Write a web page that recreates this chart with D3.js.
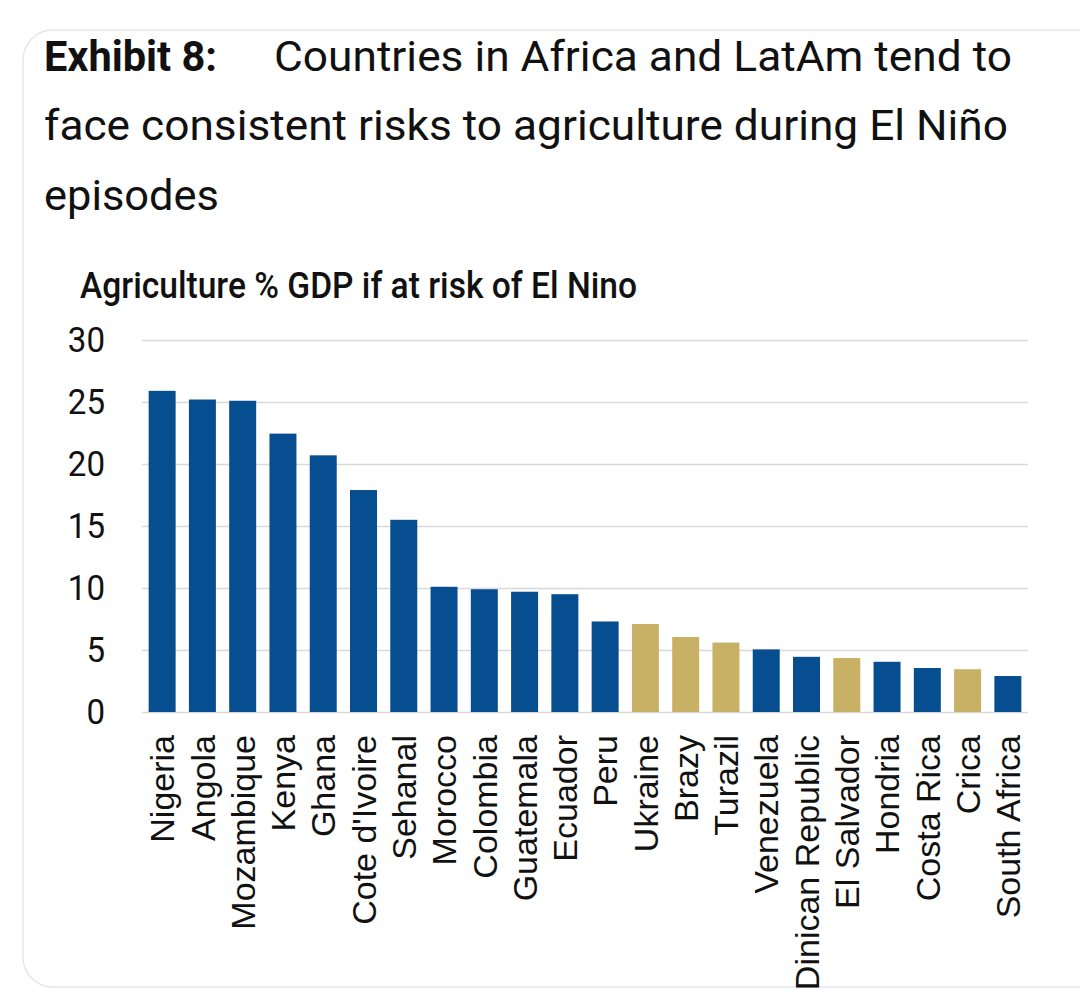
<!DOCTYPE html>
<html>
<head>
<meta charset="utf-8">
<script src="https://cdn.jsdelivr.net/npm/d3@7"></script>
<style>
  html, body { margin: 0; padding: 0; background: #ffffff; }
  svg { display: block; }
</style>
</head>
<body>
<svg id="chart"></svg>
<script>
const countries = ["Nigeria", "Angola", "Mozambique", "Kenya", "Ghana", "Cote d'Ivoire",
  "Sehanal", "Morocco", "Colombia", "Guatemala", "Ecuador", "Peru", "Ukraine", "Brazy",
  "Turazil", "Venezuela", "Dinican Republic", "El Salvador", "Hondria", "Costa Rica",
  "Crica", "South Africa"];
const values = [25.9, 25.2, 25.1, 22.45, 20.7, 17.9, 15.5, 10.1, 9.9, 9.7, 9.5, 7.3,
  7.1, 6.05, 5.6, 5.05, 4.45, 4.35, 4.05, 3.55, 3.45, 2.9];
const groups = ["a", "a", "a", "a", "a", "a", "a", "a", "a", "a", "a", "a",
  "b", "b", "b", "a", "a", "b", "a", "a", "b", "a"];
const yTicks = [0, 5, 10, 15, 20, 25, 30];

const width = 1080;
const height = 1002;

const svg = d3.select("#chart")
  .attr("width", width)
  .attr("height", height);

// card
svg.append("rect")
  .attr("x", 23)
  .attr("y", 30)
  .attr("width", 1100)
  .attr("height", 957)
  .attr("rx", 30)
  .attr("fill", "#fff")
  .attr("stroke", "#e6e6e6")
  .attr("stroke-width", 1.5);

// title
const title = svg.append("g")
  .attr("font-family", "Roboto, 'Open Sans', sans-serif")
  .attr("font-size", 42)
  .attr("fill", "#111");

title.append("text")
  .attr("x", 44).attr("y", 71)
  .attr("font-weight", "bold")
  .attr("textLength", 173).attr("lengthAdjust", "spacingAndGlyphs")
  .text("Exhibit 8:");
title.append("text")
  .attr("x", 274).attr("y", 71)
  .attr("textLength", 738).attr("lengthAdjust", "spacingAndGlyphs")
  .text("Countries in Africa and LatAm tend to");
title.append("text")
  .attr("x", 44).attr("y", 140)
  .attr("textLength", 964).attr("lengthAdjust", "spacingAndGlyphs")
  .text("face consistent risks to agriculture during El Niño");
title.append("text")
  .attr("x", 44).attr("y", 210)
  .attr("textLength", 175).attr("lengthAdjust", "spacingAndGlyphs")
  .text("episodes");

// y label
svg.append("text")
  .attr("x", 80).attr("y", 298)
  .attr("font-family", "Roboto, sans-serif")
  .attr("font-size", 37)
  .attr("font-weight", 500)
  .attr("fill", "#111")
  .attr("textLength", 557).attr("lengthAdjust", "spacingAndGlyphs")
  .text("Agriculture % GDP if at risk of El Nino");

const x = d3.scaleBand()
  .domain(countries)
  .range([142, 1028])
  .paddingInner(0.33)
  .paddingOuter(0.165);

const y = d3.scaleLinear()
  .domain([0, 30])
  .range([712, 340]);

const color = d3.scaleOrdinal()
  .domain(["a", "b"])
  .range(["#064e8f", "#c8b064"]);

// grid + y ticks
const yAxis = svg.append("g")
  .attr("transform", "translate(142,0)")
  .call(d3.axisLeft(y).tickValues(yTicks).tickSize(-(1028 - 142)).tickPadding(37));

yAxis.select(".domain").remove();
yAxis.selectAll(".tick line")
  .attr("stroke", "#d9d9d9")
  .attr("stroke-width", 1.5);
yAxis.selectAll(".tick text")
  .attr("font-family", "Roboto, sans-serif")
  .attr("font-size", 36)
  .attr("fill", "#111")
  .attr("transform", "scale(0.92,1)")
  .attr("x", -37 / 0.92);

// bars
svg.append("g")
  .selectAll("rect")
  .data(countries)
  .join("rect")
  .attr("x", (d) => x(d))
  .attr("width", x.bandwidth())
  .attr("y", (d, i) => y(values[i]))
  .attr("height", (d, i) => y(0) - y(values[i]))
  .attr("fill", (d, i) => color(groups[i]));

// country labels
const xAxis = svg.append("g")
  .attr("transform", "translate(0,712)")
  .call(d3.axisBottom(x).tickSize(0).tickPadding(0));

xAxis.select(".domain").remove();
xAxis.selectAll(".tick text")
  .attr("font-family", "'Liberation Sans', Arial, sans-serif")
  .attr("font-size", 34)
  .attr("fill", "#111")
  .attr("text-anchor", "end")
  .attr("transform", "rotate(-90)")
  .attr("x", -23)
  .attr("y", 0)
  .attr("dy", "0.36em");
</script>
</body>
</html>
